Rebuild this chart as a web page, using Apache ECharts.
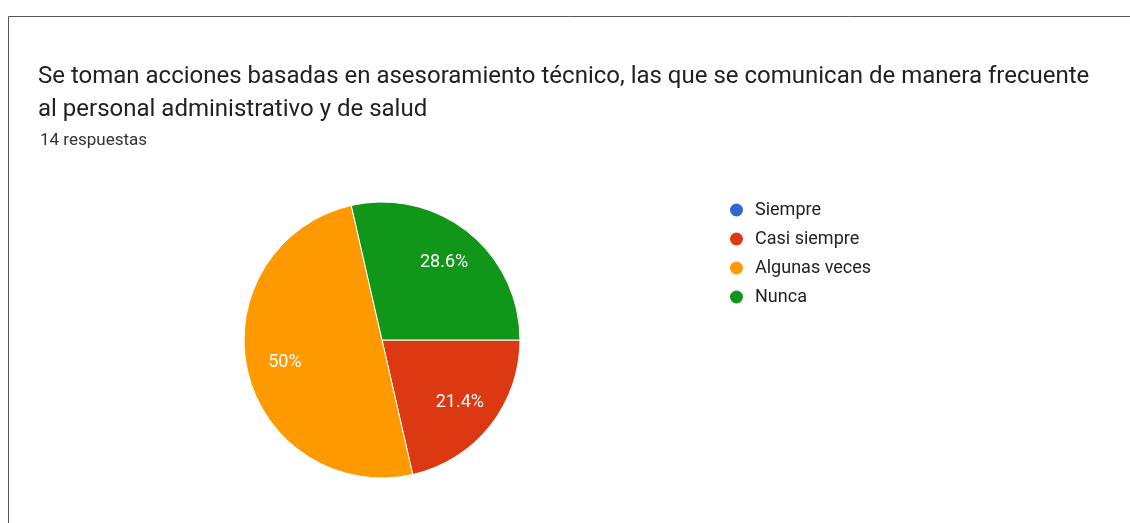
<!DOCTYPE html>
<html>
<head>
<meta charset="utf-8">
<script src="https://cdn.jsdelivr.net/npm/echarts@6/dist/echarts.min.js"></script>
<style>
  html, body { margin: 0; padding: 0; background: #fff; }
  #chart { width: 1130px; height: 523px; }
</style>
</head>
<body>
<div id="chart"></div>
<script>
// respuestas del formulario (14 en total)
const categories = ['Siempre', 'Casi siempre', 'Algunas veces', 'Nunca']
const counts = [0, 3, 7, 4]
const colors = ['#3366cc', '#dc3912', '#ff9900', '#109618']

const total = counts.reduce((a, b) => a + b, 0)
const pieData = categories.map((name, i) => ({ name, value: counts[i] }))

// porcentaje como lo muestra Google Forms
function pct (v) {
  if (!v) return ''
  const p = Math.round(v / total * 1000) / 10
  return p + '%'
}

const chart = echarts.init(document.getElementById('chart'))
const center = [382, 340]
const radius = 138

chart.setOption({
  color: colors,
  animation: false,
  title: [
    {
      text: 'Se toman acciones basadas en asesoramiento técnico, las que se comunican de manera frecuente\nal personal administrativo y de salud',
      left: 38,
      top: 60,
      padding: 0,
      textStyle: {
        fontFamily: 'Roboto',
        fontSize: 24,
        fontWeight: 'normal',
        color: '#212121',
        lineHeight: 33
      }
    },
    {
      text: total + ' respuestas',
      left: 40,
      top: 132,
      padding: 0,
      textStyle: {
        fontFamily: 'Roboto',
        fontSize: 17,
        fontWeight: 'normal',
        color: '#333'
      }
    }
  ],
  legend: {
    orient: 'vertical',
    left: 728,
    top: 201,
    padding: 0,
    icon: 'circle',
    itemWidth: 15,
    itemHeight: 15,
    itemGap: 11,
    data: categories,
    textStyle: {
      fontFamily: 'Roboto',
      fontSize: 18,
      color: '#222',
      padding: [0, 0, 0, 6]
    }
  },
  graphic: [
    // marco de la captura (solo arriba e izquierda)
    { type: 'line', shape: { x1: 8.5, y1: 16.5, x2: 8.5, y2: 523 }, style: { stroke: '#555', lineWidth: 1 } },
    { type: 'line', shape: { x1: 8.5, y1: 16.5, x2: 1130, y2: 16.5 }, style: { stroke: '#555', lineWidth: 1 } }
  ],
  series: [
    {
      type: 'pie',
      center: center,
      radius: [0, radius],
      startAngle: 0,
      clockwise: true,
      data: pieData,
      label: { show: false },
      labelLine: { show: false },
      itemStyle: { borderColor: '#fff', borderWidth: 1 },
      emphasis: { disabled: true }
    },
    {
      // serie invisible solo para colocar los porcentajes a ~70% del radio
      type: 'pie',
      center: center,
      radius: [radius * 0.4, radius],
      startAngle: 0,
      clockwise: true,
      silent: true,
      data: pieData,
      itemStyle: { color: 'transparent' },
      emphasis: { disabled: true },
      labelLine: { show: false },
      label: {
        show: true,
        position: 'inside',
        formatter: p => pct(p.value),
        fontFamily: 'Roboto',
        fontSize: 18,
        color: '#fff'
      }
    }
  ]
})
</script>
</body>
</html>
